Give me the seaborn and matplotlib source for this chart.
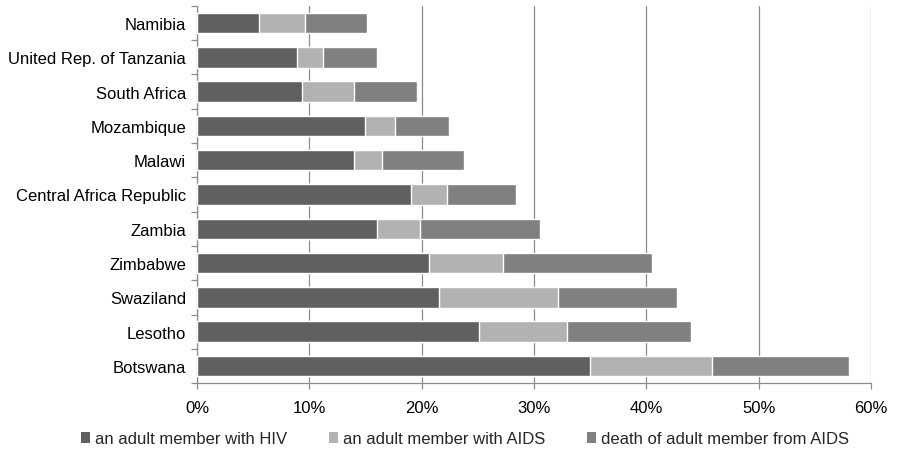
import matplotlib
matplotlib.use("Agg")
import matplotlib.pyplot as plt
from matplotlib.patches import Patch
from matplotlib.ticker import FixedLocator, PercentFormatter
import numpy as np
import pandas as pd
import seaborn as sns

countries = ["Namibia", "United Rep. of Tanzania", "South Africa", "Mozambique",
             "Malawi", "Central Africa Republic", "Zambia", "Zimbabwe",
             "Swaziland", "Lesotho", "Botswana"]
hiv = [5.5, 8.9, 9.3, 14.9, 14.0, 19.0, 16.0, 20.6, 21.5, 25.1, 35.0]
aids = [4.1, 2.3, 4.7, 2.7, 2.5, 3.2, 3.8, 6.6, 10.6, 7.8, 10.8]
death = [5.5, 4.8, 5.6, 4.8, 7.3, 6.2, 10.7, 13.3, 10.6, 11.1, 12.2]
series_labels = ["an adult member with HIV", "an adult member with AIDS",
                 "death of adult member from AIDS"]
colors = ["#606060", "#b2b2b2", "#808080"]

df = pd.DataFrame({"country": countries, "hiv": hiv, "aids": aids, "death": death})
df["c1"] = df["hiv"]
df["c2"] = df["hiv"] + df["aids"]
df["c3"] = df["c2"] + df["death"]

sns.set_theme(style="white")
plt.rcParams["font.family"] = ["Liberation Sans", "DejaVu Sans"]
plt.rcParams["font.size"] = 12

fig = plt.figure(figsize=(9, 4.52), dpi=100)
ax = fig.add_axes([0.219, 0.150, 0.749, 0.835])

# stacked bars: draw cumulative totals from the outermost segment inward
for col, color in zip(["c3", "c2", "c1"], [colors[2], colors[1], colors[0]]):
    sns.barplot(data=df, x=col, y="country", order=countries, color=color,
                orient="h", width=0.6, saturation=1, ax=ax, zorder=3)

grid_col = "#8c8c8c"
ax.set_xlim(0, 60)
ax.set_ylim(len(countries) - 0.5, -0.5)
ax.xaxis.set_major_locator(FixedLocator(np.arange(0, 61, 10)))
ax.xaxis.set_major_formatter(PercentFormatter(decimals=0))
ax.set_axisbelow(True)
ax.grid(axis="x", color=grid_col, linewidth=0.9)
ax.grid(axis="y", visible=False)
ax.set_xlabel("")
ax.set_ylabel("")

for side in ["top", "right"]:
    ax.spines[side].set_visible(False)
for side in ["left", "bottom"]:
    ax.spines[side].set_color(grid_col)
    ax.spines[side].set_linewidth(0.9)

# tick marks sit on category boundaries, labels stay centred on bars
ax.yaxis.set_minor_locator(FixedLocator(np.arange(-0.5, len(countries), 1.0)))
ax.tick_params(axis="y", which="major", length=0, pad=8, labelsize=12, colors="black")
ax.tick_params(axis="y", which="minor", left=True, length=4.5, width=0.9, color=grid_col)
ax.tick_params(axis="x", which="major", bottom=True, length=4.5, width=0.9,
               color=grid_col, pad=7.5, labelsize=12, labelcolor="black")

handles = [Patch(facecolor=c, edgecolor="none") for c in colors]
fig.legend(handles, series_labels, loc="center", bbox_to_anchor=(0.517, 0.027),
           ncol=3, frameon=False, fontsize=12, handlelength=0.55, handleheight=0.6,
           handletextpad=0.3, columnspacing=2.5, borderaxespad=0)

fig.savefig("out.png", dpi=100)
